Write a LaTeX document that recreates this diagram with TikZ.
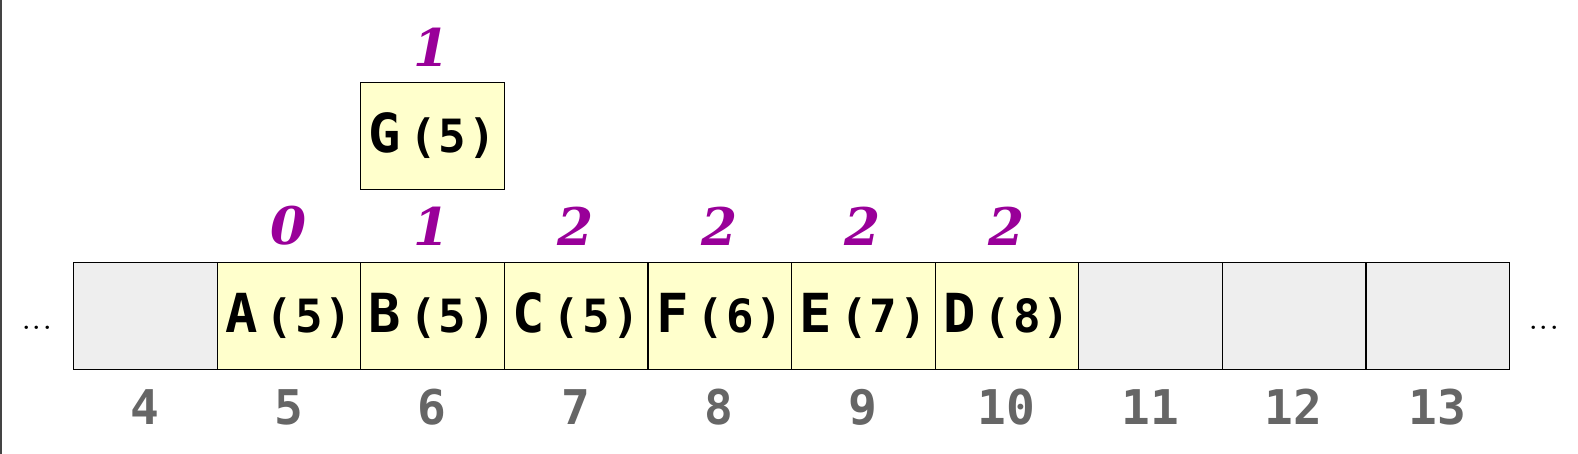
\documentclass[tikz,border=0pt]{standalone}
\usepackage{fontspec}
\newfontfamily\cellmono{DejaVu Sans Mono}
\newfontfamily\rankserif{DejaVu Serif}
\definecolor{cellyellow}{HTML}{FFFFCC}
\definecolor{cellgray}{HTML}{EEEEEE}
\definecolor{rankpurple}{HTML}{990099}
\definecolor{idxgray}{HTML}{666666}
\definecolor{edgegray}{HTML}{444444}
\newcommand{\celltext}[2]{{\cellmono\fontsize{54}{54}\selectfont\bfseries #1}\hspace{8pt}{\cellmono\fontsize{46}{46}\selectfont\bfseries (\kern2pt#2\kern2pt)}}
\begin{document}
\begin{tikzpicture}[x=1bp,y=-1bp,
  cellbox/.style={draw=black,line width=1.1bp,minimum width=143.6bp,minimum height=107bp,inner sep=0pt,anchor=north west},
  fullcell/.style={cellbox,fill=cellyellow},
  emptycell/.style={cellbox,fill=cellgray},
  ranklabel/.style={text=rankpurple,font=\rankserif\fontsize{52}{52}\selectfont\bfseries\itshape,inner sep=0pt},
  idxlabel/.style={text=idxgray,font=\cellmono\fontsize{48}{48}\selectfont\bfseries,inner sep=0pt},
  dotslabel/.style={font=\fontsize{42}{42}\selectfont,inner sep=0pt}]
\useasboundingbox (0,0) rectangle (1578,454);
\fill[white] (0,0) rectangle (1578,454);
\draw[edgegray,line width=2.5bp] (1.2,0) -- (1.2,454);
% cells
\node[emptycell] (c4) at (73,262) {};
\node[fullcell] (c5) at (216.6,262) {\celltext{A}{5}};
\node[fullcell] (c6) at (360.2,262) {\celltext{B}{5}};
\node[fullcell] (c7) at (503.8,262) {\celltext{C}{5}};
\node[fullcell] (c8) at (647.4,262) {\celltext{F}{6}};
\node[fullcell] (c9) at (791.0,262) {\celltext{E}{7}};
\node[fullcell] (c10) at (934.6,262) {\celltext{D}{8}};
\node[emptycell] (c11) at (1078.2,262) {};
\node[emptycell] (c12) at (1221.8,262) {};
\node[emptycell] (c13) at (1365.4,262) {};
% stacked node
\node[fullcell] (g) at (360.2,82) {\celltext{G}{5}};
% rank labels
\node[ranklabel] (r5) at (288.4,226) {0};
\node[ranklabel] (r6) at (432,226) {1};
\node[ranklabel] (r7) at (575.6,226) {2};
\node[ranklabel] (r8) at (719.2,226) {2};
\node[ranklabel] (r9) at (862.8,226) {2};
\node[ranklabel] (r10) at (1006.4,226) {2};
\node[ranklabel] (rg) at (432,47) {1};
% indices
\foreach \i/\x in {4/144.8,5/288.4,6/432,7/575.6,8/719.2,9/862.8,10/1006.4,11/1150,12/1293.6,13/1437.2}
  \node[idxlabel] (i\i) at (\x,407) {\i};
% ellipses
\node[dotslabel,anchor=base] (ldots) at (37,329.5) {...};
\node[dotslabel,anchor=base] (rdots) at (1544,329.5) {...};
\end{tikzpicture}
\end{document}
